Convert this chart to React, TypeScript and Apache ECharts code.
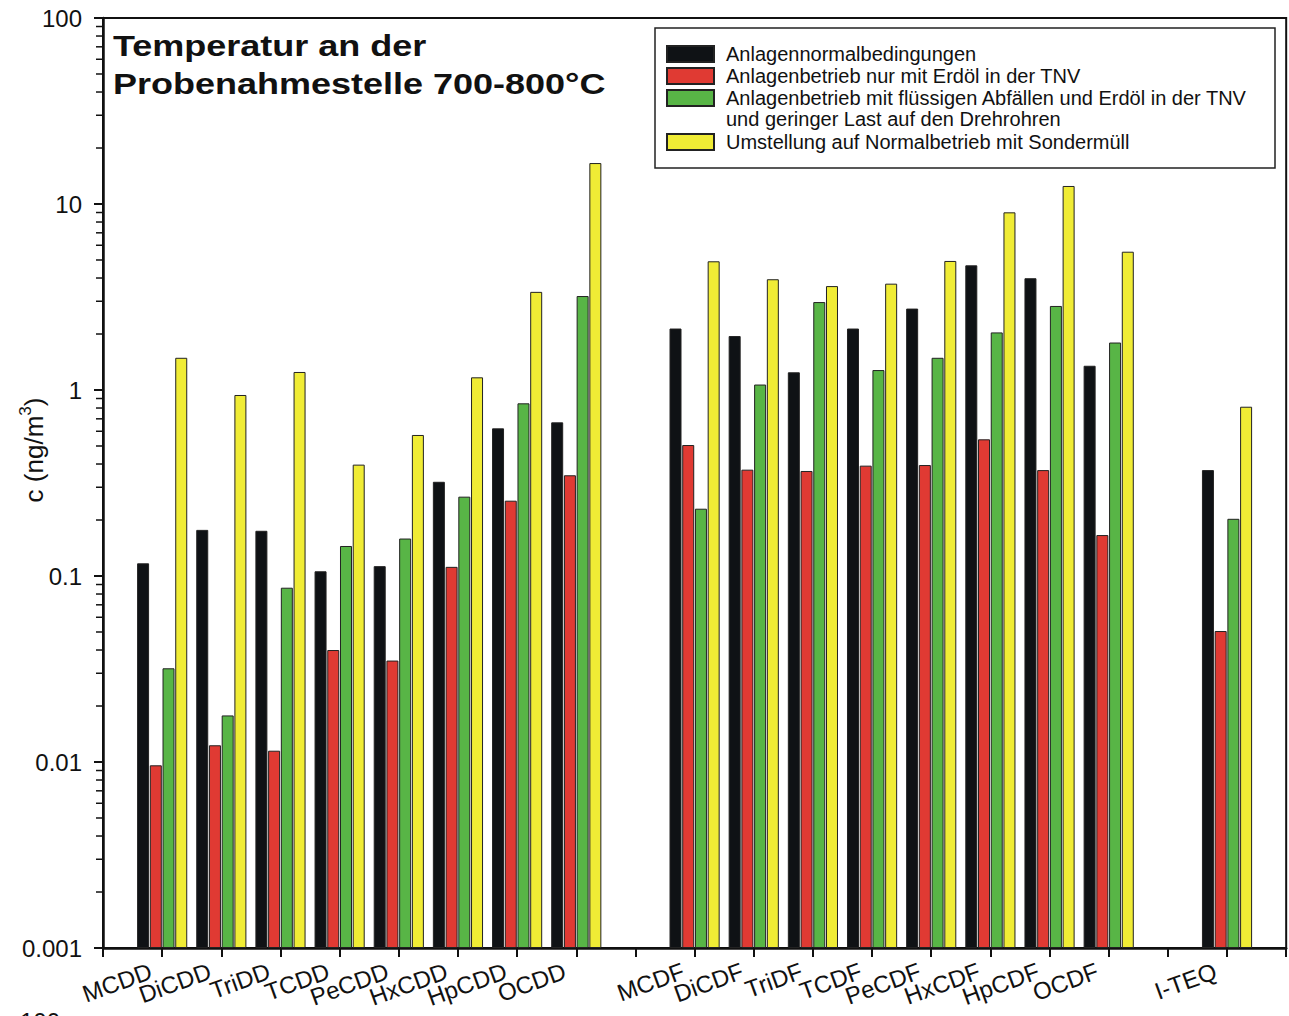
import { useEffect, useRef } from 'react';
import * as echarts from 'echarts';

const categories = ['', 'MCDD', 'DiCDD', 'TriDD', 'TCDD', 'PeCDD', 'HxCDD', 'HpCDD', 'OCDD', '', 'MCDF', 'DiCDF', 'TriDF', 'TCDF', 'PeCDF', 'HxCDF', 'HpCDF', 'OCDF', '', 'I-TEQ', ''];

const seriesNames = [
  'Anlagennormalbedingungen',
  'Anlagenbetrieb nur mit Erdöl in der TNV',
  'Anlagenbetrieb mit flüssigen Abfällen und Erdöl in der TNV',
  'Umstellung auf Normalbetrieb mit Sondermüll',
];
const legendContinuation = 'und geringer Last auf den Drehrohren';

const normalValues = [null, 0.117, 0.177, 0.175, 0.106, 0.113, 0.321, 0.622, 0.67, null, 2.14, 1.95, 1.245, 2.14, 2.74, 4.68, 3.99, 1.35, null, 0.371, null];
const oilValues = [null, 0.0096, 0.0123, 0.0115, 0.04, 0.0351, 0.112, 0.254, 0.348, null, 0.506, 0.373, 0.367, 0.392, 0.395, 0.543, 0.371, 0.166, null, 0.0506, null];
const liquidValues = [null, 0.0319, 0.0178, 0.0865, 0.145, 0.159, 0.267, 0.848, 3.2, null, 0.23, 1.07, 2.97, 1.28, 1.49, 2.04, 2.83, 1.8, null, 0.203, null];
const specialValues = [null, 1.49, 0.94, 1.25, 0.397, 0.573, 1.17, 3.37, 16.6, null, 4.92, 3.94, 3.62, 3.73, 4.94, 9.02, 12.5, 5.54, null, 0.813, null];

const seriesColors = ['#0f1215', '#e03a33', '#58b546', '#f0ec35'];

const minorTickValues = [
  0.002, 0.003, 0.004, 0.005, 0.006, 0.007, 0.008, 0.009,
  0.02, 0.03, 0.04, 0.05, 0.06, 0.07, 0.08, 0.09,
  0.2, 0.3, 0.4, 0.5, 0.6, 0.7, 0.8, 0.9,
  2, 3, 4, 5, 6, 7, 8, 9,
  20, 30, 40, 50, 60, 70, 80, 90,
];

const titleText = 'Temperatur an der\nProbenahmestelle 700-800°C';
const FONT = 'Liberation Sans, Arial, sans-serif';

export default function App() {
  const ref = useRef<HTMLDivElement>(null);
  useEffect(() => {
    if (!ref.current) return;
    const chart = echarts.init(ref.current, undefined, { renderer: 'svg' });
    const valueSets = [normalValues, oilValues, liquidValues, specialValues];
    const bars = valueSets.map((vals, i) => ({
      name: seriesNames[i],
      type: 'bar',
      data: vals,
      barWidth: 12,
      barGap: '6%',
      itemStyle: { color: seriesColors[i], borderColor: '#222', borderWidth: 1 },
      z: 2,
    }));
    const legendBase = {
      orient: 'vertical',
      left: 666,
      itemWidth: 47,
      itemHeight: 16,
      itemGap: 2,
      icon: 'rect',
      padding: 0,
      selectedMode: false,
      textStyle: { fontFamily: FONT, fontSize: 20, color: '#111', padding: [0, 0, 0, 7] },
    };
    const option: any = {
      animation: false,
      backgroundColor: '#fff',
      textStyle: { fontFamily: FONT, color: '#111' },
      grid: {
        left: 103,
        right: 1,
        top: 18,
        bottom: 68,
        show: true,
        borderColor: '#111',
        borderWidth: 2,
        backgroundColor: 'transparent',
      },
      legend: [
        { ...legendBase, data: seriesNames.slice(0, 3), top: 44 },
        { ...legendBase, data: seriesNames.slice(3), top: 132 },
      ],
      graphic: [
        {
          type: 'text',
          x: 113,
          y: 27,
          scaleX: 1.2,
          style: {
            text: titleText,
            font: `bold 30px ${FONT}`,
            lineHeight: 38,
            fill: '#111',
            align: 'left',
            verticalAlign: 'top',
          },
          z: 5,
        },
        {
          type: 'rect',
          shape: { x: 655, y: 28, width: 620, height: 140 },
          style: { fill: 'transparent', stroke: '#222', lineWidth: 1.5 },
          z: 5,
        },
        {
          type: 'text',
          x: 726,
          y: 119,
          style: { text: legendContinuation, font: `20px ${FONT}`, fill: '#111', verticalAlign: 'middle', align: 'left' },
          z: 5,
        },
        {
          type: 'text',
          x: 32,
          y: 450,
          rotation: Math.PI / 2,
          style: {
            text: '{a|c (ng/m}{s|3}{a|)}',
            align: 'center',
            verticalAlign: 'middle',
            fill: '#111',
            rich: {
              a: { fontFamily: FONT, fontSize: 26, lineHeight: 30, verticalAlign: 'bottom', fill: '#111' },
              s: { fontFamily: FONT, fontSize: 17, lineHeight: 30, verticalAlign: 'top', fill: '#111' },
            },
          },
          z: 5,
        },
        {
          type: 'text',
          x: 20,
          y: 1009,
          style: { text: '100', font: `24px ${FONT}`, fill: '#111', verticalAlign: 'top', align: 'left' },
        },
      ],
      xAxis: {
        type: 'category',
        data: categories,
        boundaryGap: false,
        axisLine: { lineStyle: { color: '#111', width: 2.5 } },
        axisTick: { show: true, interval: 0, length: 9, lineStyle: { color: '#111', width: 2 } },
        axisLabel: {
          interval: 0,
          rotate: 20,
          margin: 18,
          fontFamily: FONT,
          fontSize: 24,
          color: '#111',
          padding: [0, 12, 0, 0],
        },
        splitLine: { show: false },
      },
      yAxis: {
        type: 'log',
        logBase: 10,
        min: 0.001,
        max: 100,
        startValue: 0.001,
        axisLine: { show: true, lineStyle: { color: '#111', width: 2.5 } },
        axisTick: { show: true, length: 9, lineStyle: { color: '#111', width: 2 } },
        axisLabel: {
          margin: 21,
          fontFamily: FONT,
          fontSize: 24,
          color: '#111',
          formatter: (v: number) => String(+Number(v).toPrecision(3)),
        },
        splitLine: { show: false },
      },
      series: [
        ...bars,
        {
          type: 'custom',
          silent: true,
          clip: false,
          z: 10,
          data: minorTickValues.map((v) => [0, v]),
          encode: { x: 0, y: 1 },
          renderItem: (_params: any, api: any) => {
            const p = api.coord([api.value(0), api.value(1)]);
            return {
              type: 'line',
              shape: { x1: p[0] - 7, y1: p[1], x2: p[0], y2: p[1] },
              style: { stroke: '#111', lineWidth: 1.5 },
            };
          },
        },
      ],
    };
    chart.setOption(option);
    return () => chart.dispose();
  }, []);
  return <div ref={ref} style={{ position: 'fixed', left: 0, top: 0, width: 1289, height: 1016 }} />;
}
